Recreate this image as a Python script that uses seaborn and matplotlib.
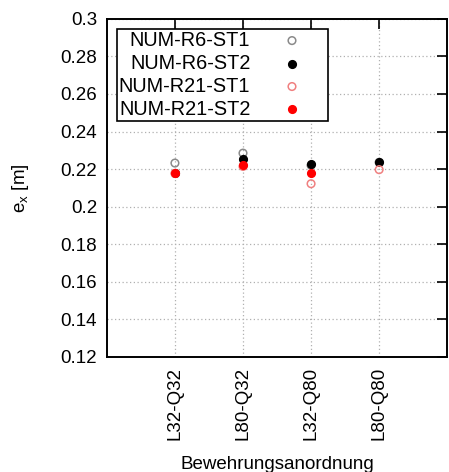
import numpy as np
import pandas as pd
import matplotlib
matplotlib.use("Agg")
import matplotlib.pyplot as plt
import seaborn as sns

categories = ["L32-Q32", "L80-Q32", "L32-Q80", "L80-Q80"]
r6_st1 = [0.2232, 0.2285, 0.2220, 0.2236]
r6_st2 = [0.2177, 0.2255, 0.2229, 0.2236]
r21_st1 = [0.2177, 0.2214, 0.2122, 0.2197]
r21_st2 = [0.2177, 0.2220, 0.2177, np.nan]
yticks = [0.12, 0.14, 0.16, 0.18, 0.2, 0.22, 0.24, 0.26, 0.28, 0.3]
ytick_labels = ["0.12", "0.14", "0.16", "0.18", "0.2", "0.22", "0.24", "0.26", "0.28", "0.3"]

sns.set_style("white")
plt.rcParams['font.family'] = ['Liberation Sans', 'DejaVu Sans']
plt.rcParams['mathtext.fontset'] = 'custom'
plt.rcParams['mathtext.rm'] = 'Liberation Sans'
plt.rcParams['mathtext.it'] = 'Liberation Sans'
plt.rcParams['text.color'] = 'black'
plt.rcParams['axes.labelcolor'] = 'black'

fig = plt.figure(figsize=(4.49, 4.72), dpi=100)
ax = fig.add_axes([0.238, 0.244, 0.758, 0.716])

pos = np.arange(1, len(categories) + 1)
series = [
    ("NUM-R6-ST1", r6_st1, "none", "#8a8a8a"),
    ("NUM-R6-ST2", r6_st2, "black", "black"),
    ("NUM-R21-ST1", r21_st1, "none", "#f08080"),
    ("NUM-R21-ST2", r21_st2, "red", "red"),
]
for i, (name, vals, fc, ec) in enumerate(series):
    df = pd.DataFrame({"x": pos, "y": vals})
    sns.scatterplot(data=df, x="x", y="y", ax=ax, label=name, s=30,
                    facecolor=fc, edgecolor=ec, linewidth=1.1, zorder=3 + i)

ax.set_xlim(0, 5)
ax.set_ylim(0.12, 0.3)
ax.set_xticks(pos)
ax.set_xticklabels(categories, rotation=90)
ax.set_yticks(yticks)
ax.set_yticklabels(ytick_labels)
ax.grid(True, linestyle=(0, (1, 2)), color="#b0b0b0", linewidth=0.9)
ax.tick_params(direction="in", length=7, width=1.2, top=True, right=True,
               labelsize=13.5, colors="black", pad=7)
for sp in ax.spines.values():
    sp.set_linewidth(1.4)
    sp.set_color("black")

ax.set_xlabel("Bewehrungsanordnung", fontsize=13.5, labelpad=12)
ax.set_ylabel("e$_\\mathrm{x}$ [m]", fontsize=13.5, labelpad=21)

leg = ax.legend(loc="upper left", markerfirst=False, frameon=True, fancybox=False,
                fontsize=14.3, handletextpad=0.4, borderpad=0.1, labelspacing=0.2,
                borderaxespad=0.5, handlelength=3.4)
leg.get_frame().set_edgecolor("black")
leg.get_frame().set_linewidth(1.2)
leg.get_frame().set_alpha(1)

fig.savefig("out.png", dpi=100)
